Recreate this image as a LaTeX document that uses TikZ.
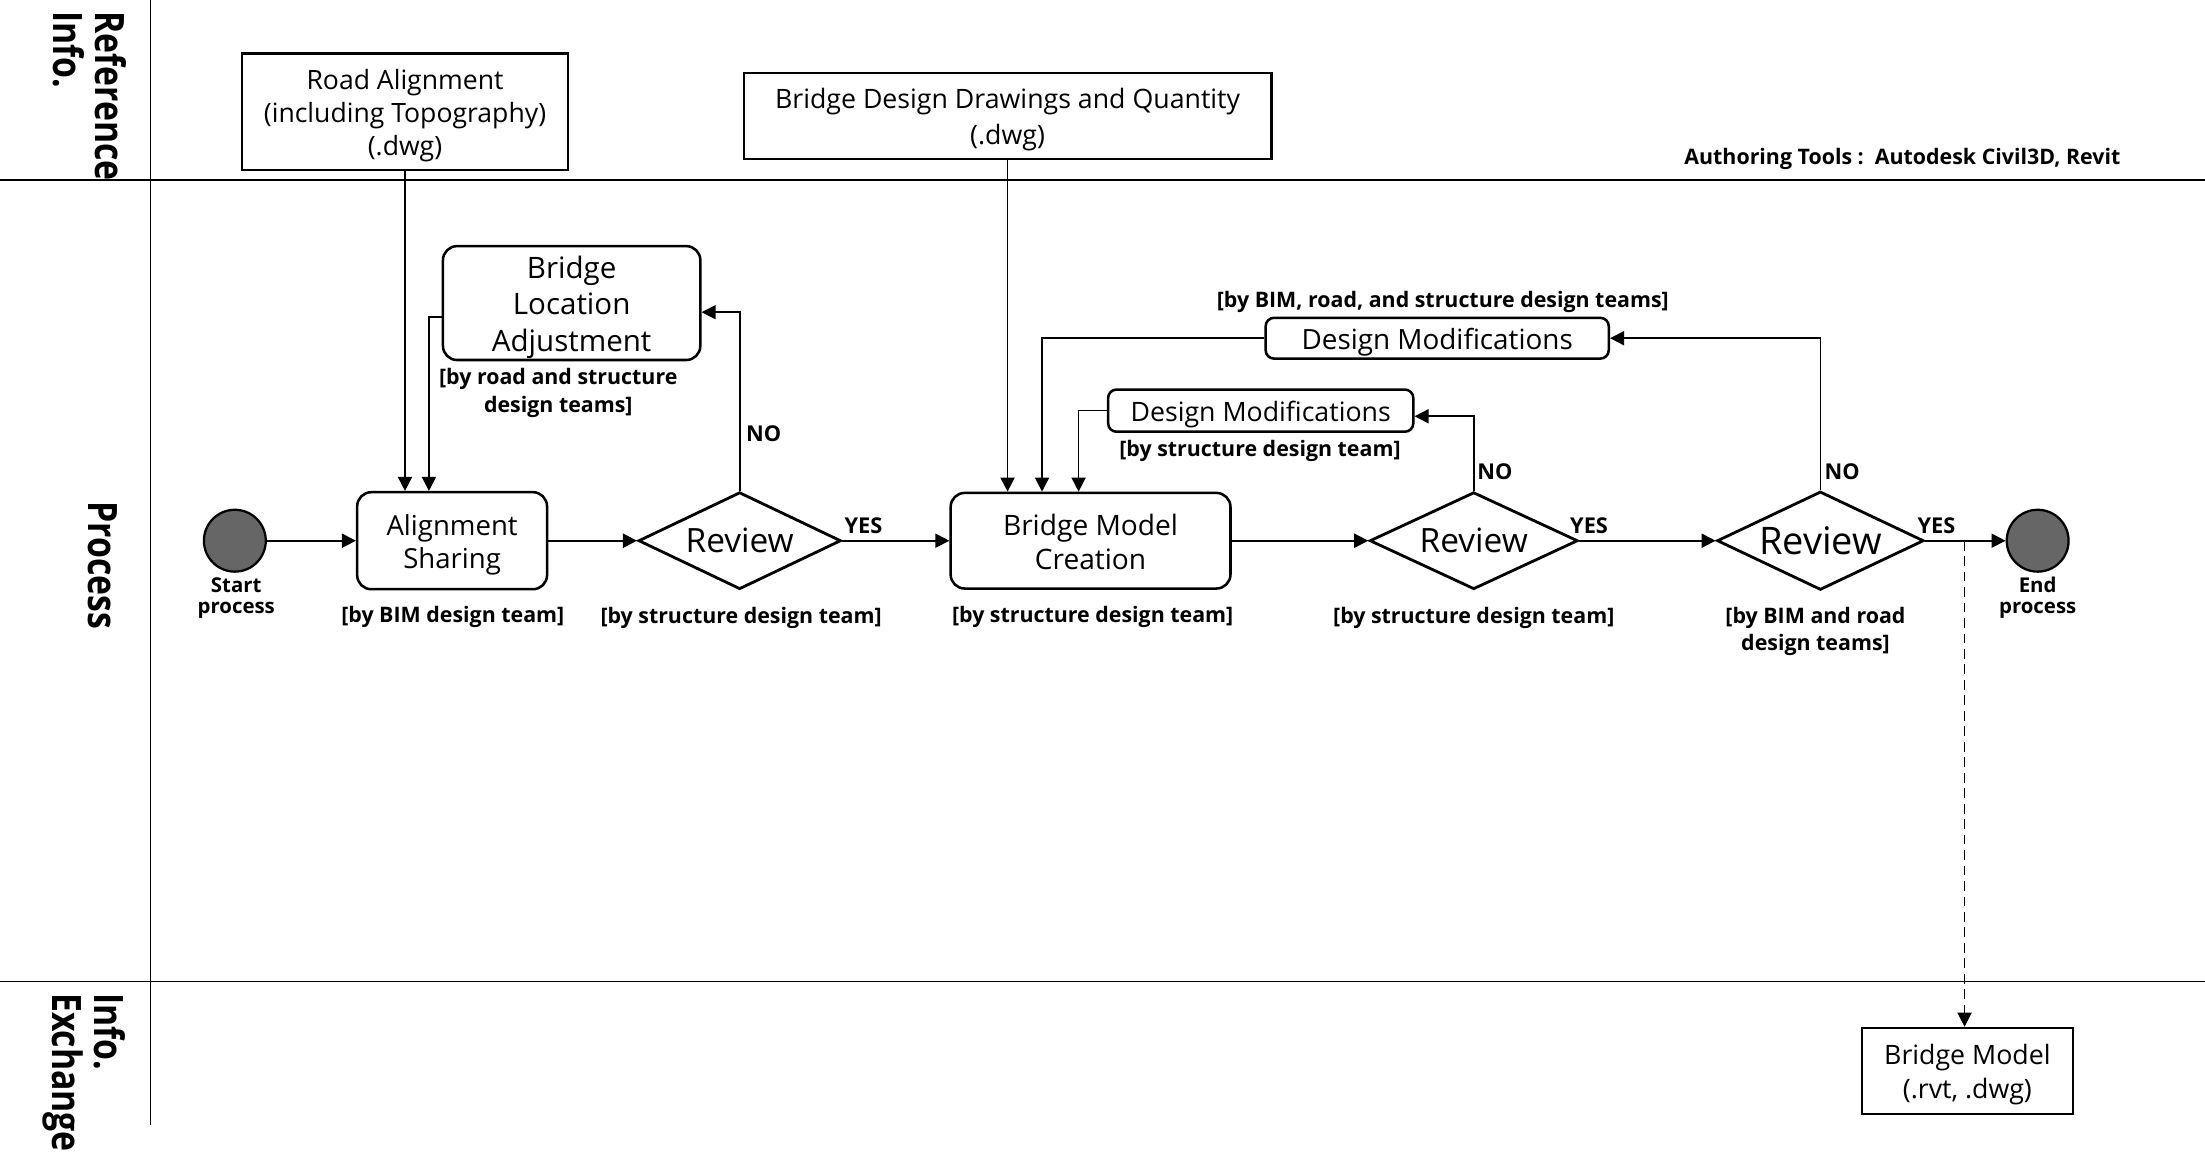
\documentclass[tikz,border=0pt]{standalone}
\usepackage{fontspec}
\usepackage{graphicx}
\setmainfont{Open Sans}
\usetikzlibrary{shapes.geometric,arrows.meta}
\definecolor{startgray}{HTML}{666666}
\begin{document}
\begin{tikzpicture}[x=1pt,y=-1pt,
  lane/.style={line width=1.2pt},
  refbox/.style={draw, line width=1.8pt, inner sep=0pt},
  procbox/.style={draw, rounded corners=10pt, line width=1.8pt, inner sep=0pt},
  smallbox/.style={draw, rounded corners=6pt, line width=1.8pt, inner sep=0pt},
  boxtxt/.style={align=center, inner sep=0pt, yshift=-2.5pt},
  decision/.style={draw, diamond, line width=2pt, inner sep=0pt, align=center},
  terminal/.style={draw, circle, fill=startgray, line width=1.6pt, minimum size=44pt, inner sep=0pt},
  lbl/.style={font=\bfseries\fontsize{15.2}{19.5}\selectfont, align=center, inner sep=0pt},
  tlbl/.style={font=\bfseries\fontsize{14.5}{15}\selectfont, align=center, inner sep=0pt},
  yn/.style={font=\bfseries\fontsize{15.5}{18}\selectfont, inner sep=0pt},
  lanelbl/.style={font=\bfseries\fontsize{24}{22.5}\selectfont, inner sep=0pt, rotate=-90},
  conn/.style={line width=1.2pt, -{Triangle[length=10pt,width=10pt]}},
  dconn/.style={line width=1.2pt, dash pattern=on 7pt off 4pt, -{Triangle[length=10pt,width=10pt]}}
]
\useasboundingbox (0,0) rectangle (1568,820);
% lanes
\draw[lane] (0,128) -- (1568,128);
\draw[lane] (0,698) -- (1568,698);
\draw[lane] (107,0) -- (107,800);
\node[lanelbl, anchor=west] (lref) at (60,8) {\scalebox{1}[1.2]{\begin{tabular}{@{}l@{}}Reference\\Info.\end{tabular}}};
\node[lanelbl, anchor=center] (lproc) at (73,402) {\scalebox{1}[1.2]{Process}};
\node[lanelbl, anchor=west] (lex) at (59,706) {\scalebox{1}[1.2]{\begin{tabular}{@{}l@{}}Info.\\Exchange\end{tabular}}};

% reference info
\node[refbox, minimum width=232pt, minimum height=83pt,
  label={[boxtxt, yshift=-0.5pt, font=\fontsize{18.9}{23.5}\selectfont]center:{Road Alignment\\(including Topography)\\(.dwg)}}] (road) at (288,79.5) {};
\node[refbox, minimum width=375pt, minimum height=61pt,
  label={[boxtxt, font=\fontsize{19}{25}\selectfont]center:{Bridge Design Drawings and Quantity\\(.dwg)}}] (bdd) at (716.5,82.5) {};
\node[font=\bfseries\fontsize{15.2}{17}\selectfont, anchor=east, inner sep=0pt] (tools) at (1508,113) {Authoring Tools :\ \ Autodesk Civil3D, Revit};

% process
\node[terminal] (start) at (167,384.5) {};
\node[tlbl] (startl) at (168,425) {Start\\process};
\node[procbox, minimum width=135pt, minimum height=69pt,
  label={[boxtxt, yshift=-0.5pt, font=\fontsize{19.6}{24}\selectfont]center:{Alignment\\Sharing}}] (align) at (321.5,384.5) {};
\node[lbl] (alignl) at (322,438.5) {[by BIM design team]};
\node[decision, minimum width=144pt, minimum height=69pt, aspect=2.087, font=\fontsize{23.8}{26}\selectfont] (r1) at (526,384.5) {Review};
\node[lbl] (r1l) at (527,439.5) {[by structure design team]};
\node[yn] (r1yes) at (614,373.5) {YES};
\node[yn] (r1no) at (543,308.5) {NO};

\node[procbox, minimum width=183pt, minimum height=81pt,
  label={[boxtxt, yshift=-0.5pt, font=\fontsize{21}{26}\selectfont]center:{Bridge\\Location\\Adjustment}}] (bla) at (406.5,215.5) {};
\node[lbl, font=\bfseries\fontsize{15.2}{20}\selectfont] (blal) at (397,279.5) {[by road and structure\\design teams]};

\node[procbox, minimum width=199pt, minimum height=68pt,
  label={[boxtxt, yshift=1.5pt, font=\fontsize{20}{24}\selectfont]center:{Bridge Model\\Creation}}] (bmc) at (775.5,384.5) {};
\node[lbl] (bmcl) at (777,438.5) {[by structure design team]};

\node[smallbox, minimum width=244pt, minimum height=29pt,
  label={[boxtxt, font=\fontsize{19.8}{22}\selectfont]center:{Design Modifications}}] (dm1) at (1022,240.5) {};
\node[lbl] (dm1l) at (1026,214.5) {[by BIM, road, and structure design teams]};
\node[smallbox, minimum width=217pt, minimum height=30pt,
  label={[boxtxt, font=\fontsize{19}{22}\selectfont]center:{Design Modifications}}] (dm2) at (896.5,292) {};
\node[lbl] (dm2l) at (896,320.5) {[by structure design team]};

\node[decision, minimum width=148pt, minimum height=69pt, aspect=2.145, font=\fontsize{23.8}{26}\selectfont] (r2) at (1048,384.5) {Review};
\node[lbl] (r2l) at (1048,439.5) {[by structure design team]};
\node[yn] (r2yes) at (1130,373.5) {YES};
\node[yn] (r2no) at (1063,335.5) {NO};

\node[decision, minimum width=147pt, minimum height=70pt, aspect=2.1, font=\fontsize{27}{29}\selectfont] (r3) at (1294.5,384.5) {Review};
\node[lbl] (r3l) at (1291,449) {[by BIM and road\\design teams]};
\node[yn] (r3yes) at (1377,373.5) {YES};
\node[yn] (r3no) at (1310,335.5) {NO};

\node[terminal] (end) at (1449,384.5) {};
\node[tlbl] (endl) at (1449,425) {End\\process};

% info exchange
\node[refbox, minimum width=150pt, minimum height=61pt,
  label={[boxtxt, font=\fontsize{19}{24}\selectfont]center:{Bridge Model\\(.rvt, .dwg)}}] (bm) at (1399,761.5) {};

% connectors
\draw[conn] (start.east) -- (align.west);
\draw[conn] (align.east) -- (r1.west);
\draw[conn] (road.south) -- (road.south |- align.north);
\draw[conn] ([yshift=-10pt]bla.west) -| ([xshift=-16.5pt]align.north);
\draw[conn] (r1.north) |- ([yshift=-6.5pt]bla.east);
\draw[conn] (r1.east) -- (bmc.west);
\draw[conn] (bdd.south) -- (bdd.south |- bmc.north);
\draw[conn] (dm1.west) -| ([xshift=-34.5pt]bmc.north);
\draw[conn] (dm2.west) -| ([xshift=-8.5pt]bmc.north);
\draw[conn] (bmc.east) -- (r2.west);
\draw[conn] (r2.north) |- ([yshift=-4pt]dm2.east);
\draw[conn] (r2.east) -- (r3.west);
\draw[conn] (r3.north) |- (dm1.east);
\draw[conn] (r3.east) -- (end.west);
\coordinate (split) at (1397,384.5);
\draw[dconn] (split) -- (split |- bm.north);
\end{tikzpicture}
\end{document}
